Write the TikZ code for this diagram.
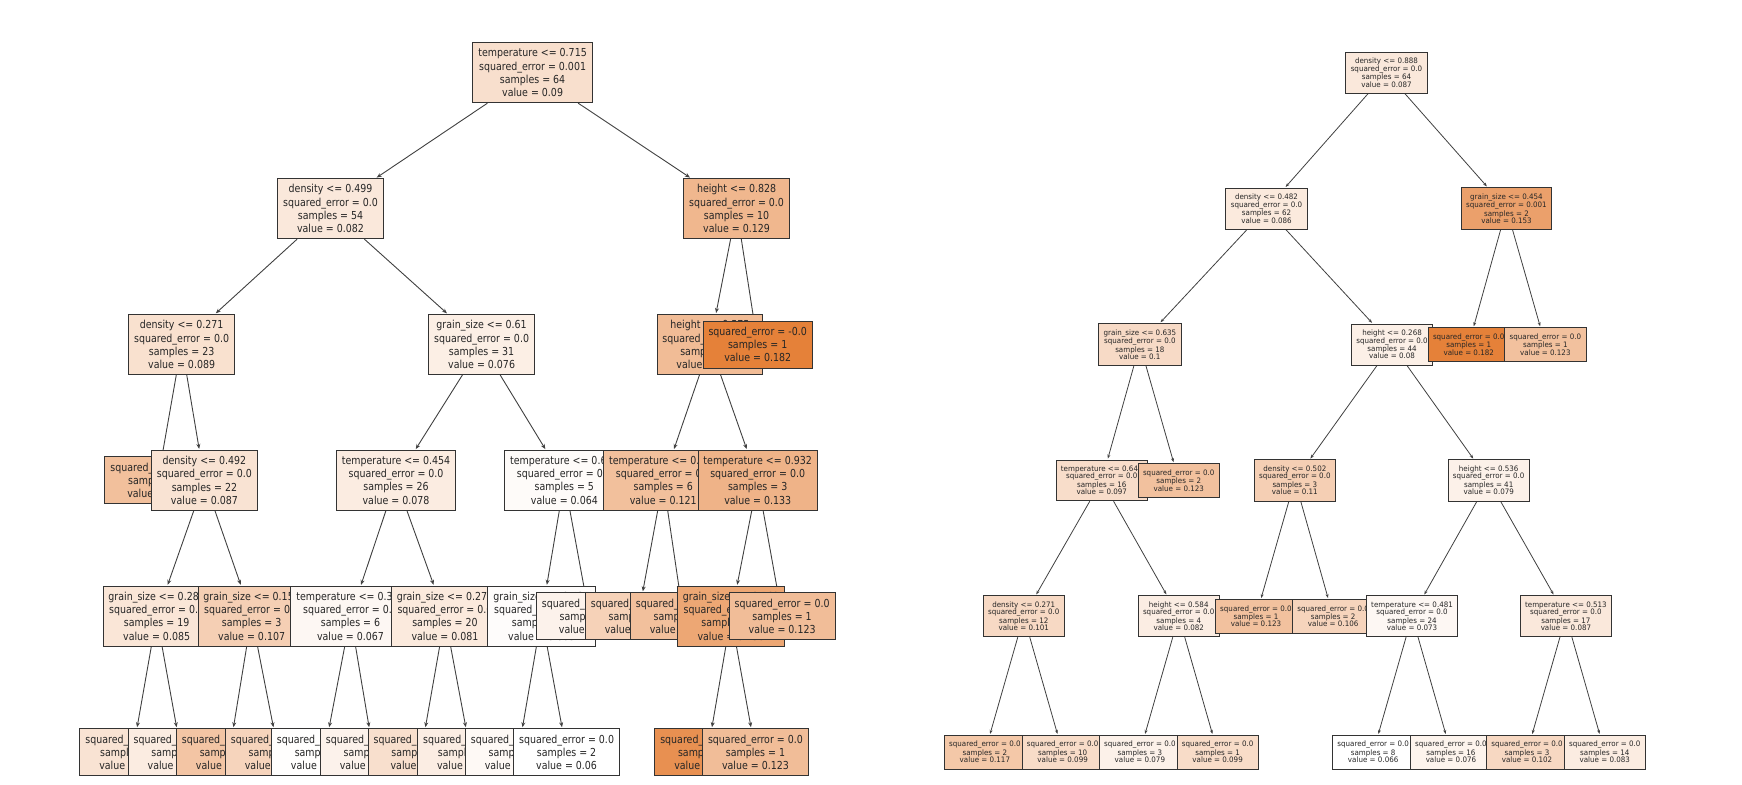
\documentclass[tikz,border=0pt]{standalone}
\usepackage{fontspec}
\newfontfamily\lfont[FakeStretch=0.86]{DejaVu Sans}
\newfontfamily\rfont[FakeStretch=0.95]{DejaVu Sans}
\usetikzlibrary{arrows.meta,backgrounds}
\definecolor{orng}{RGB}{229,129,57}
\tikzset{
  lbox/.style={draw=black!80, line width=0.9pt, align=center, inner xsep=5.5pt, inner ysep=6pt,
    text=black!85, font=\lfont\fontsize{11}{13.2}\selectfont},
  rbox/.style={draw=black!80, line width=0.8pt, align=center, inner xsep=5pt, inner ysep=6pt,
    text=black!85, font=\rfont\fontsize{7.5}{7.4}\selectfont},
  lv/.style={fill=orng!#1!white},
  link/.style={-{Stealth[length=5pt,width=4pt]}, black!75, line width=0.9pt, shorten >=1pt},
  slink/.style={-{Stealth[length=4pt,width=3pt]}, black!75, line width=0.8pt, shorten >=1pt}
}
\begin{document}
\begin{tikzpicture}[x=1.111pt,y=-1.111pt]
\useasboundingbox (0,0) rectangle (1568,706.5);
\def\ya{65.5}
\def\yb{187.8}
\def\yc{310.1}
\def\yd{432.4}
\def\ye{554.7}
\def\yf{677}

% left tree, deepest row first
\node[lbox,lv=22] (l50) at (119.5,\yf) {squared\_error = 0.0\\samples = 14\\value = 0.087};
\node[lbox,lv=15] (l51) at (163,\yf) {squared\_error = 0.0\\samples = 5\\value = 0.079};
\node[lbox,lv=46] (l52) at (206.5,\yf) {squared\_error = 0.0\\samples = 1\\value = 0.117};
\node[lbox,lv=34] (l53) at (250.5,\yf) {squared\_error = 0.0\\samples = 2\\value = 0.102};
\node[lbox,lv=1] (l54) at (292,\yf) {squared\_error = 0.0\\samples = 3\\value = 0.061};
\node[lbox,lv=10] (l55) at (336,\yf) {squared\_error = 0.0\\samples = 3\\value = 0.072};
\node[lbox,lv=25] (l56) at (379,\yf) {squared\_error = 0.0\\samples = 6\\value = 0.09};
\node[lbox,lv=14] (l57) at (423.5,\yf) {squared\_error = 0.0\\samples = 14\\value = 0.077};
\node[lbox,lv=5] (l58) at (466.5,\yf) {squared\_error = 0.0\\samples = 2\\value = 0.066};
\node[lbox,lv=0] (l59) at (510,\yf) {squared\_error = 0.0\\samples = 2\\value = 0.06};
\node[lbox,lv=88] (l510) at (637,\yf) {squared\_error = 0.0\\samples = 1\\value = 0.153};
\node[lbox,lv=52] (l511) at (680,\yf) {squared\_error = 0.0\\samples = 1\\value = 0.123};

\node[lbox,lv=20] (l40) at (141,\ye) {grain\_size <= 0.283\\squared\_error = 0.0\\samples = 19\\value = 0.085};
\node[lbox,lv=38] (l41) at (226.5,\ye) {grain\_size <= 0.152\\squared\_error = 0.0\\samples = 3\\value = 0.107};
\node[lbox,lv=6] (l42) at (315.5,\ye) {temperature <= 0.381\\squared\_error = 0.0\\samples = 6\\value = 0.067};
\node[lbox,lv=17] (l43) at (400.5,\ye) {grain\_size <= 0.272\\squared\_error = 0.0\\samples = 20\\value = 0.081};
\node[lbox,lv=2] (l44) at (487.5,\ye) {grain\_size <= 0.437\\squared\_error = 0.0\\samples = 4\\value = 0.063};
\node[lbox,lv=10] (l45) at (530.5,\ye) {squared\_error = 0.0\\samples = 1\\value = 0.07};
\node[lbox,lv=36] (l46) at (574.5,\ye) {squared\_error = 0.0\\samples = 3\\value = 0.108};
\node[lbox,lv=50] (l47) at (615,\ye) {squared\_error = 0.0\\samples = 3\\value = 0.134};
\node[lbox,lv=70] (l48) at (658,\ye) {grain\_size <= 0.562\\squared\_error = 0.0\\samples = 2\\value = 0.138};
\node[lbox,lv=52] (l49) at (704,\ye) {squared\_error = 0.0\\samples = 1\\value = 0.123};

\node[lbox,lv=50] (l30) at (142,\yd) {squared\_error = 0.0\\samples = 1\\value = 0.13};
\node[lbox,lv=22] (l31) at (184,\yd) {density <= 0.492\\squared\_error = 0.0\\samples = 22\\value = 0.087};
\node[lbox,lv=15] (l32) at (356.5,\yd) {temperature <= 0.454\\squared\_error = 0.0\\samples = 26\\value = 0.078};
\node[lbox,lv=3] (l33) at (508,\yd) {temperature <= 0.683\\squared\_error = 0.0\\samples = 5\\value = 0.064};
\node[lbox,lv=50] (l34) at (597,\yd) {temperature <= 0.355\\squared\_error = 0.0\\samples = 6\\value = 0.121};
\node[lbox,lv=60] (l35) at (682,\yd) {temperature <= 0.932\\squared\_error = 0.0\\samples = 3\\value = 0.133};

\node[lbox,lv=24] (l20) at (163.5,\yc) {density <= 0.271\\squared\_error = 0.0\\samples = 23\\value = 0.089};
\node[lbox,lv=13] (l21) at (433.5,\yc) {grain\_size <= 0.61\\squared\_error = 0.0\\samples = 31\\value = 0.076};
\node[lbox,lv=53] (l22) at (639,\yc) {height <= 0.575\\squared\_error = 0.0\\samples = 9\\value = 0.125};
\node[lbox,lv=100] (l23) at (682,\yc) {squared\_error = -0.0\\samples = 1\\value = 0.182};

\node[lbox,lv=18] (l10) at (297.5,\yb) {density <= 0.499\\squared\_error = 0.0\\samples = 54\\value = 0.082};
\node[lbox,lv=57] (l11) at (663,\yb) {height <= 0.828\\squared\_error = 0.0\\samples = 10\\value = 0.129};

\node[lbox,lv=25] (l00) at (479.4,\ya) {temperature <= 0.715\\squared\_error = 0.001\\samples = 64\\value = 0.09};

% right tree
\node[rbox,lv=44] (r50) at (886.5,\yf) {squared\_error = 0.0\\samples = 2\\value = 0.117};
\node[rbox,lv=28] (r51) at (956.5,\yf) {squared\_error = 0.0\\samples = 10\\value = 0.099};
\node[rbox,lv=11] (r52) at (1026,\yf) {squared\_error = 0.0\\samples = 3\\value = 0.079};
\node[rbox,lv=28] (r53) at (1096,\yf) {squared\_error = 0.0\\samples = 1\\value = 0.099};
\node[rbox,lv=0] (r54) at (1236,\yf) {squared\_error = 0.0\\samples = 8\\value = 0.066};
\node[rbox,lv=9] (r55) at (1306,\yf) {squared\_error = 0.0\\samples = 16\\value = 0.076};
\node[rbox,lv=31] (r56) at (1374.5,\yf) {squared\_error = 0.0\\samples = 3\\value = 0.102};
\node[rbox,lv=15] (r57) at (1444.5,\yf) {squared\_error = 0.0\\samples = 14\\value = 0.083};

\node[rbox,lv=30] (r40) at (921.5,\ye) {density <= 0.271\\squared\_error = 0.0\\samples = 12\\value = 0.101};
\node[rbox,lv=14] (r41) at (1061,\ye) {height <= 0.584\\squared\_error = 0.0\\samples = 4\\value = 0.082};
\node[rbox,lv=49] (r42) at (1130.5,\ye) {squared\_error = 0.0\\samples = 1\\value = 0.123};
\node[rbox,lv=34] (r43) at (1200,\ye) {squared\_error = 0.0\\samples = 2\\value = 0.106};
\node[rbox,lv=6] (r44) at (1271,\ye) {temperature <= 0.481\\squared\_error = 0.0\\samples = 24\\value = 0.073};
\node[rbox,lv=18] (r45) at (1409.5,\ye) {temperature <= 0.513\\squared\_error = 0.0\\samples = 17\\value = 0.087};

\node[rbox,lv=27] (r30) at (991.7,\yd) {temperature <= 0.648\\squared\_error = 0.0\\samples = 16\\value = 0.097};
\node[rbox,lv=49] (r31) at (1061,\yd) {squared\_error = 0.0\\samples = 2\\value = 0.123};
\node[rbox,lv=38] (r32) at (1165.5,\yd) {density <= 0.502\\squared\_error = 0.0\\samples = 3\\value = 0.11};
\node[rbox,lv=11] (r33) at (1340,\yd) {height <= 0.536\\squared\_error = 0.0\\samples = 41\\value = 0.079};

\node[rbox,lv=29] (r20) at (1026,\yc) {grain\_size <= 0.635\\squared\_error = 0.0\\samples = 18\\value = 0.1};
\node[rbox,lv=12] (r21) at (1253,\yc) {height <= 0.268\\squared\_error = 0.0\\samples = 44\\value = 0.08};
\node[rbox,lv=100] (r22) at (1322,\yc) {squared\_error = 0.0\\samples = 1\\value = 0.182};
\node[rbox,lv=49] (r23) at (1391,\yc) {squared\_error = 0.0\\samples = 1\\value = 0.123};

\node[rbox,lv=17] (r10) at (1140,\yb) {density <= 0.482\\squared\_error = 0.0\\samples = 62\\value = 0.086};
\node[rbox,lv=75] (r11) at (1356,\yb) {grain\_size <= 0.454\\squared\_error = 0.001\\samples = 2\\value = 0.153};

\node[rbox,lv=18] (r00) at (1248,\ya) {density <= 0.888\\squared\_error = 0.0\\samples = 64\\value = 0.087};

\begin{pgfonlayer}{background}
\foreach \a/\b in {l00/l10,l00/l11,l10/l20,l10/l21,l20/l30,l20/l31,l31/l40,l31/l41,
  l40/l50,l40/l51,l41/l52,l41/l53,l21/l32,l21/l33,l32/l42,l32/l43,l42/l54,l42/l55,
  l43/l56,l43/l57,l33/l44,l33/l45,l44/l58,l44/l59,l11/l22,l11/l23,l22/l34,l22/l35,
  l34/l46,l34/l47,l35/l48,l35/l49,l48/l510,l48/l511} {
\draw[link] (\a) -- (\b);
}
\foreach \a/\b in {r00/r10,r00/r11,r10/r20,r10/r21,r20/r30,r20/r31,r30/r40,r30/r41,
  r40/r50,r40/r51,r41/r52,r41/r53,r21/r32,r21/r33,r32/r42,r32/r43,r33/r44,r33/r45,
  r44/r54,r44/r55,r45/r56,r45/r57,r11/r22,r11/r23} {
\draw[slink] (\a) -- (\b);
}
\end{pgfonlayer}
\end{tikzpicture}
\end{document}
